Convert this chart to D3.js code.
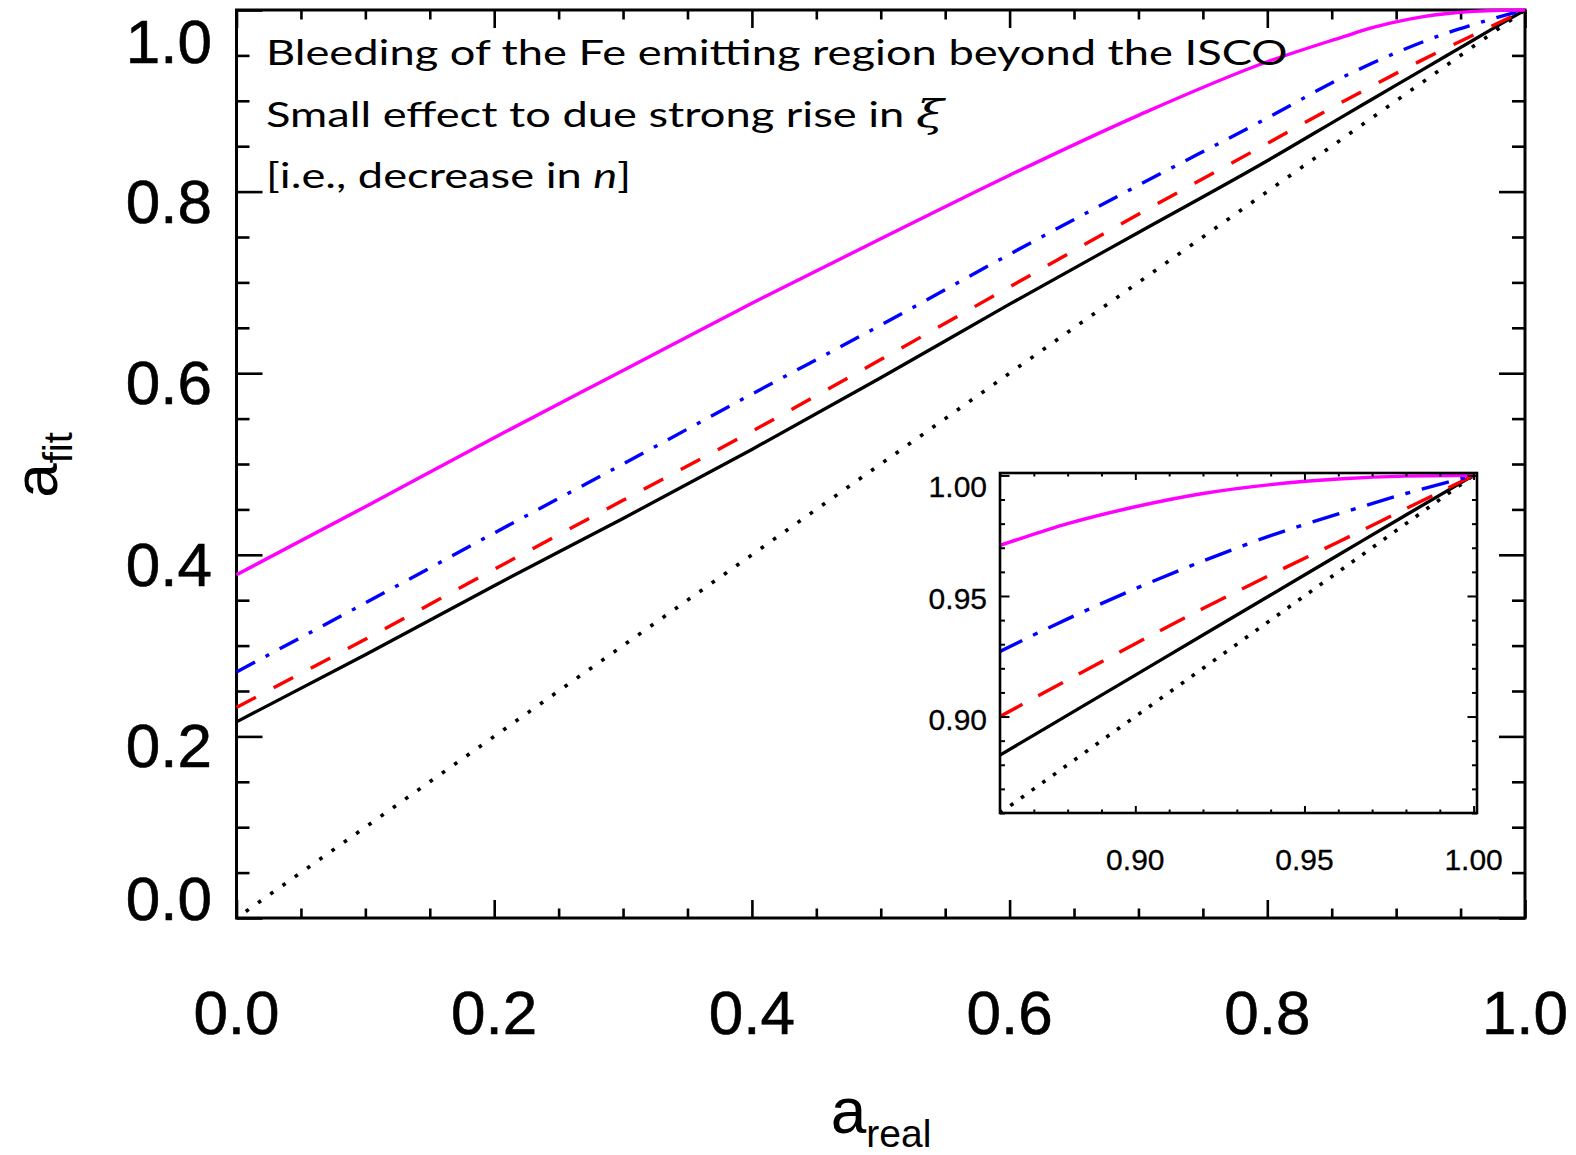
<!DOCTYPE html>
<html><head><meta charset="utf-8">
<script src="https://cdn.jsdelivr.net/npm/d3@7"></script>
<style>body{margin:0;background:#fff}</style></head>
<body>
<svg id="c" width="1576" height="1155"></svg>
<script>
// ---- data ----
const aReal       = [0, 0.1, 0.2, 0.3, 0.4, 0.5, 0.6, 0.7, 0.8, 0.86, 0.88, 0.9, 0.92, 0.94, 0.96, 0.98, 1.0];
const fitIdentity = [0, 0.1, 0.2, 0.3, 0.4, 0.5, 0.6, 0.7, 0.8, 0.86, 0.88, 0.9, 0.92, 0.94, 0.96, 0.98, 1.0];
const fitBlack    = [0.216, 0.290, 0.366, 0.440, 0.516, 0.595, 0.676, 0.755, 0.834, 0.884, 0.9006, 0.9172, 0.9338, 0.9504, 0.967, 0.9836, 1.0];
const fitRed      = [0.232, 0.307, 0.384, 0.460, 0.536, 0.615, 0.695, 0.775, 0.853, 0.900, 0.9152, 0.9302, 0.9448, 0.9588, 0.9724, 0.9862, 1.0];
const fitBlue     = [0.271, 0.347, 0.424, 0.500, 0.577, 0.653, 0.731, 0.807, 0.881, 0.927, 0.9405, 0.953, 0.9645, 0.975, 0.984, 0.9925, 1.0];
const fitMagenta  = [0.378, 0.453, 0.529, 0.603, 0.677, 0.748, 0.818, 0.884, 0.943, 0.971, 0.980, 0.987, 0.9925, 0.9962, 0.9985, 0.9997, 1.0];

const mainMajorTicks = [0, 0.2, 0.4, 0.6, 0.8, 1.0];
const mainMinorTicks = [0.05,0.1,0.15,0.25,0.3,0.35,0.45,0.5,0.55,0.65,0.7,0.75,0.85,0.9,0.95];
const mainTickLabels = ["0.0","0.2","0.4","0.6","0.8","1.0"];
const insetMajorTicks = [0.90, 0.95, 1.00];
const insetMinorTicks = [0.86,0.87,0.88,0.89,0.91,0.92,0.93,0.94,0.96,0.97,0.98,0.99];
const insetTickLabels = ["0.90","0.95","1.00"];
const noteLines = ["Bleeding of the Fe emitting region beyond the ISCO", "Small effect to due strong rise in ", "[i.e., decrease in "];

const series = [
  {vals: fitIdentity, color:"#000", w:3.6, dashMain:"3.6 11.4", dashInset:"3.6 9.5", off:3.6},
  {vals: fitBlack,    color:"#000", w:3.3, dashMain:null, dashInset:null, off:0},
  {vals: fitRed,      color:"#ff0000", w:3.4, dashMain:"22 20", dashInset:"28 18", off:0},
  {vals: fitBlue,     color:"#0000ff", w:3.4, dashMain:"21 12 4 12", dashInset:"28 12 5 12", off:0},
  {vals: fitMagenta,  color:"#ff00ff", w:3.4, dashMain:null, dashInset:null, off:0}
];

const svg = d3.select("#c");
const FONT = "'Liberation Sans', Arial, Helvetica, sans-serif";

// ---- main plot ----
const L=236.5, R=1525, T=10, B=918;
const x = d3.scaleLinear().domain([0,1]).range([L,R]);
const y = d3.scaleLinear().domain([0,1]).range([B,T]);

function drawAxes(g, xs, ys, maj, minr, xMaj, xMin, yMaj, yMin, sw) {
  const H = ys.range()[0], Tp = ys.range()[1], Lf = xs.range()[0], Rt = xs.range()[1];
  const cfg = [
    [d3.axisBottom(xs), `translate(0,${H})`, xMaj, xMin],
    [d3.axisTop(xs), `translate(0,${Tp})`, xMaj, xMin],
    [d3.axisLeft(ys), `translate(${Lf},0)`, yMaj, yMin],
    [d3.axisRight(ys), `translate(${Rt},0)`, yMaj, yMin]
  ];
  cfg.forEach(([ax, tr, lm, ln]) => {
    [[maj, lm],[minr, ln]].forEach(([vals, len]) => {
      const a = ax.tickValues(vals).tickSizeInner(-len).tickSizeOuter(0).tickFormat("");
      const gg = g.append("g").attr("transform", tr).call(a);
      gg.select(".domain").remove();
      gg.selectAll("line").attr("stroke","#000").attr("stroke-width", sw);
    });
  });
}

const gMain = svg.append("g");
drawAxes(gMain, x, y, mainMajorTicks, mainMinorTicks, 18, 9.5, 26, 13, 2.6);
gMain.append("rect").attr("x",L).attr("y",T).attr("width",R-L).attr("height",B-T)
  .attr("fill","none").attr("stroke","#000").attr("stroke-width",3);

// tick labels
gMain.selectAll(".ylab").data(mainMajorTicks).join("text")
  .attr("x", 212).attr("y", d => Math.min(920, Math.max(63, y(d)+31)))
  .attr("text-anchor","end").attr("font-family",FONT).attr("font-size",62)
  .attr("stroke","#000").attr("stroke-width",0.6)
  .text((d,i)=>mainTickLabels[i]);
gMain.selectAll(".xlab").data(mainMajorTicks).join("text")
  .attr("x", d=>x(d)).attr("y", 1034)
  .attr("text-anchor","middle").attr("font-family",FONT).attr("font-size",62)
  .attr("stroke","#000").attr("stroke-width",0.6)
  .text((d,i)=>mainTickLabels[i]);

// axis titles
const yt = svg.append("text").attr("transform","translate(57,465) rotate(-90)")
  .attr("text-anchor","middle").attr("font-family",FONT);
yt.append("tspan").attr("font-size",62).text("a");
yt.append("tspan").attr("font-size",40).attr("dy",15).text("fit");
const xt = svg.append("text").attr("x",881).attr("y",1133)
  .attr("text-anchor","middle").attr("font-family",FONT);
xt.append("tspan").attr("font-size",64).text("a");
xt.append("tspan").attr("font-size",39).attr("dy",14).text("real");

// curves main
const lineMain = d3.line().x(d=>x(d[0])).y(d=>y(d[1])).curve(d3.curveMonotoneX);
series.forEach(s => {
  const pts = aReal.map((a,i)=>[a, s.vals[i]]);
  const p = gMain.append("path").datum(pts)
    .attr("d", lineMain).attr("fill","none").attr("stroke", s.color).attr("stroke-width", s.w);
  if (s.dashMain) p.attr("stroke-dasharray", s.dashMain).attr("stroke-dashoffset", s.off);
});

// annotation
const note = svg.append("g").attr("font-family","Lato, 'Noto Sans', sans-serif").attr("font-size",34).attr("fill","#000");
const t1 = note.append("text").attr("x",0).attr("y",65).text(noteLines[0]);
const t2 = note.append("text").attr("x",0).attr("y",127);
t2.append("tspan").text(noteLines[1]);
t2.append("tspan").attr("font-family","'DejaVu Serif', serif").attr("font-style","italic").attr("font-size",38).text("ξ");
const t3 = note.append("text").attr("x",0).attr("y",188);
t3.append("tspan").text(noteLines[2]);
t3.append("tspan").attr("font-style","italic").text("n");
t3.append("tspan").text("]");
const w1 = t1.node().getComputedTextLength();
const sx = 1022 / w1;
note.attr("transform", `translate(266,0) scale(${sx},1)`);

// ---- inset ----
const iL=1000, iR=1477, iT=473, iB=813;
const xi = d3.scaleLinear().domain([0.86,1.001]).range([iL,iR]);
const yi = d3.scaleLinear().domain([0.86,1.001]).range([iB,iT]);
const gIn = svg.append("g");
gIn.append("rect").attr("x",iL).attr("y",iT).attr("width",iR-iL).attr("height",iB-iT).attr("fill","#fff");
svg.append("defs").append("clipPath").attr("id","iclip").append("rect")
  .attr("x",iL).attr("y",iT-2).attr("width",iR-iL).attr("height",iB-iT+2);
const lineIn = d3.line().x(d=>xi(d[0])).y(d=>yi(d[1])).curve(d3.curveMonotoneX);
const gc = gIn.append("g").attr("clip-path","url(#iclip)");
series.forEach(s => {
  const pts = aReal.map((a,i)=>[a, s.vals[i]]).filter(d=>d[0]>=0.8);
  const p = gc.append("path").datum(pts).attr("d", lineIn).attr("fill","none")
    .attr("stroke", s.color).attr("stroke-width", s.w);
  if (s.dashInset) p.attr("stroke-dasharray", s.dashInset);
});
drawAxes(gIn, xi, yi, insetMajorTicks, insetMinorTicks, 7, 3.5, 9.5, 5, 2);
gIn.append("rect").attr("x",iL).attr("y",iT).attr("width",iR-iL).attr("height",iB-iT)
  .attr("fill","none").attr("stroke","#000").attr("stroke-width",2.6);
gIn.selectAll(".iyl").data(insetMajorTicks).join("text")
  .attr("x",987).attr("y", d=>Math.max(497, yi(d)+13))
  .attr("text-anchor","end").attr("font-family",FONT).attr("font-size",30)
  .attr("stroke","#000").attr("stroke-width",0.3)
  .text((d,i)=>insetTickLabels[i]);
gIn.selectAll(".ixl").data(insetMajorTicks).join("text")
  .attr("x", d=>xi(d)).attr("y", 870)
  .attr("text-anchor","middle").attr("font-family",FONT).attr("font-size",30)
  .attr("stroke","#000").attr("stroke-width",0.3)
  .text((d,i)=>insetTickLabels[i]);
</script>
</body></html>
